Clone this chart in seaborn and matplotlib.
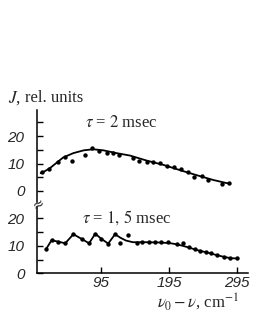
import matplotlib
matplotlib.use("Agg")
import matplotlib.pyplot as plt
import seaborn as sns
from matplotlib.ticker import MultipleLocator

# upper panel, tau = 2 msec
top_dots_x = [8.6, 19.9, 32.9, 42.7, 52.5, 72, 81.8, 92.5, 103.8, 113.4, 122.3,
              141.9, 151.5, 162.3, 172, 181.8, 192.5, 202.3, 212.1, 223.3,
              231.6, 242.9, 252.5, 272.1, 283.3]
top_dots_y = [6.9, 7.9, 10.7, 12.5, 10.9, 13.1, 15.5, 14.7, 13.9, 13.7, 13.1,
              11.9, 11.0, 10.7, 10.4, 10.1, 9.1, 8.8, 7.9, 6.8,
              5.2, 5.5, 4.0, 2.5, 2.8]
top_curve_x = [7, 11, 21, 31, 40, 55, 70, 84, 99, 118, 138, 162, 187, 211, 235, 260, 279, 284]
top_curve_y = [6.5, 6.9, 8.4, 10.4, 12.2, 13.8, 14.8, 15.2, 14.8, 13.8, 12.9, 11.1,
               9.5, 7.6, 5.8, 4.0, 2.9, 2.7]

# lower panel, tau = 1.5 msec
bot_dots_x = [15, 23, 33, 43, 55, 67, 78, 87, 96, 106, 116, 123, 135, 148, 156,
              165, 175, 184, 193, 206, 215, 225, 233, 241, 249, 256, 266, 276, 285, 294]
bot_dots_y = [8.8, 12.0, 11.5, 10.9, 14.2, 12.5, 10.9, 14.4, 12.5, 10.8, 14.2, 10.9,
              13.9, 11.1, 11.3, 11.5, 11.4, 11.3, 11.2, 10.8, 10.9, 9.5, 8.8, 8.2,
              7.9, 7.5, 6.7, 6.0, 5.5, 5.5]
bot_line_x = [15, 23, 33, 43, 55, 67, 78, 87, 96, 106, 116, 124, 132, 142, 160,
              180, 195, 205, 215, 225, 235, 245, 255, 265, 275, 285, 294]
bot_line_y = [8.8, 12.0, 11.5, 10.9, 14.2, 12.5, 10.9, 14.4, 12.5, 10.8, 14.2, 12.9,
              11.9, 11.3, 11.3, 11.2, 11.0, 10.6, 10.0, 9.3, 8.5, 7.9, 7.3, 6.6,
              6.0, 5.5, 5.4]

xticks = [95, 195, 295]

sns.set_style("white")
plt.rcParams['font.family'] = ['Liberation Serif', 'DejaVu Serif']
plt.rcParams['mathtext.fontset'] = 'stix'

W, H = 256, 311
fig = plt.figure(figsize=(W / 100, H / 100), dpi=100)

def fx(px):
    return px / W

def fy(py):
    return 1 - py / H

left, right = fx(37), fx(248)
ax1 = fig.add_axes([left, fy(201.7), right - left, fy(110) - fy(201.7)])
ax2 = fig.add_axes([left, fy(273.3), right - left, fy(206.7) - fy(273.3)])

tickfont = dict(family=['Liberation Sans Narrow', 'Liberation Sans', 'DejaVu Sans'],
                style='italic', size=11)

for ax in (ax1, ax2):
    ax.set_facecolor('white')
    ax.set_xlim(1.7, 310.7)
    for s in ['top', 'right']:
        ax.spines[s].set_visible(False)
    ax.spines['left'].set_color('black')
    ax.spines['left'].set_linewidth(1.1)
    ax.yaxis.set_major_locator(MultipleLocator(10))
    ax.yaxis.set_minor_locator(MultipleLocator(5))
    ax.tick_params(axis='y', which='both', direction='in', length=4, width=1,
                   color='black', pad=9, left=True)

# upper
sns.lineplot(x=top_curve_x, y=top_curve_y, ax=ax1, color='black', lw=1.3, sort=False)
sns.scatterplot(x=top_dots_x, y=top_dots_y, ax=ax1, color='black', s=10, linewidth=0)
ax1.set_ylim(-3.9, 29.5)
ax1.spines['bottom'].set_visible(False)
ax1.set_xticks([])
ax1.set_yticks([0, 10, 20])
ax1.set_yticklabels(['0', '10', '20'], **tickfont)

# lower
sns.lineplot(x=bot_line_x, y=bot_line_y, ax=ax2, color='black', lw=1.3, sort=False)
sns.scatterplot(x=bot_dots_x, y=bot_dots_y, ax=ax2, color='black', s=10, linewidth=0)
ax2.set_ylim(0, 24.2)
ax2.spines['bottom'].set_color('black')
ax2.spines['bottom'].set_linewidth(1.1)
ax2.set_yticks([0, 10, 20])
ax2.set_yticklabels(['0', '10', '20'], **tickfont)
ax2.set_xticks(xticks)
ax2.set_xticklabels([str(v) for v in xticks], **tickfont)
ax2.tick_params(axis='x', direction='in', length=4, width=1, color='black',
                pad=2, bottom=True)

# texts
fig.text(fx(8), fy(98), r'$J$,', fontsize=12.5, va='center', ha='left')
fig.text(fx(25), fy(98), 'rel. units', fontsize=12, va='center', ha='left')
fig.text(fx(85), fy(123), r'$\tau$ = $\mathit{2}$ msec', fontsize=12, va='center', ha='left')
fig.text(fx(82), fy(218), r'$\tau$ = $\mathit{1,\,5}$ msec', fontsize=12, va='center', ha='left')
fig.text(fx(157), fy(302), r'$\nu_0 - \nu$, cm$^{-1}$', fontsize=12, va='center', ha='left')

# axis break mark
fig.text(fx(38), fy(204), '≈', fontsize=10, va='center', ha='center',
         family=['DejaVu Sans'], rotation=30)

fig.savefig('out.png', dpi=100, facecolor='white')
